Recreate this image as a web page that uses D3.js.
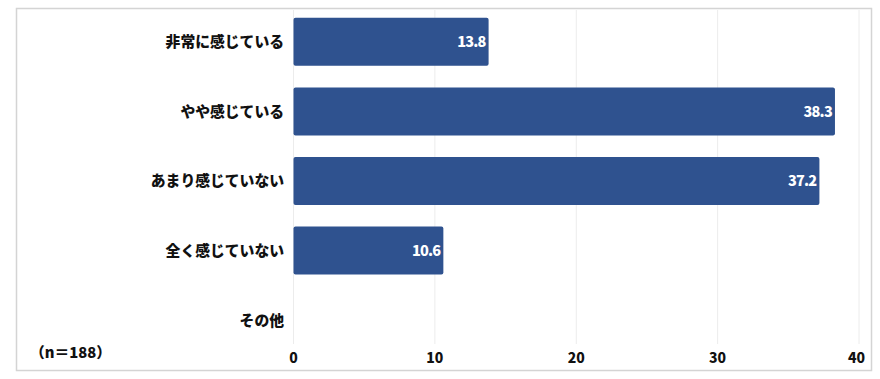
<!DOCTYPE html>
<html lang="ja">
<head>
<meta charset="UTF-8">
<title>感じている程度</title>
<script src="https://d3js.org/d3.v7.min.js"></script>
<style>
    body { margin: 0; background: white; font-family: "Noto Sans CJK JP", "Noto Sans", sans-serif; }
    .frame { fill: white; stroke: #d4d4d4; stroke-width: 1.5; }
    .grid line { stroke: #ececec; stroke-width: 1; }
    .cat { font-size: 14.8px; font-weight: 900; fill: #111; }
    .tick-label { font-size: 14px; font-weight: 900; fill: #111; }
    .val { font-size: 14.5px; font-weight: 900; fill: white; letter-spacing: -0.8px; }
</style>
</head>
<body>
<svg width="880" height="379"></svg>
<script>
    // Data
    const categories = ["非常に感じている", "やや感じている", "あまり感じていない", "全く感じていない", "その他"];
    const values = [13.8, 38.3, 37.2, 10.6, null];
    const xTicks = [0, 10, 20, 30, 40];
    const note = "（n＝188）";

    const svg = d3.select("svg");

    // outer frame
    svg.append("rect")
        .attr("class", "frame")
        .attr("x", 16.5).attr("y", 8.5)
        .attr("width", 855).attr("height", 362);

    const x = d3.scaleLinear().domain([0, 40]).range([293.5, 859]);
    const y = d3.scaleBand()
        .domain(categories)
        .range([7, 355])
        .paddingInner(0.31)
        .paddingOuter(0.155);

    // gridlines
    svg.append("g").attr("class", "grid")
        .selectAll("line")
        .data(xTicks)
        .enter().append("line")
        .attr("x1", d => x(d)).attr("x2", d => x(d))
        .attr("y1", 10).attr("y2", 344);

    // bars
    const rows = categories.map((c, i) => ({ cat: c, value: values[i] }));
    const barRows = rows.filter(d => d.value != null);

    svg.append("g")
        .selectAll("rect")
        .data(barRows)
        .enter().append("rect")
        .attr("x", x(0))
        .attr("y", d => y(d.cat))
        .attr("width", d => x(d.value) - x(0))
        .attr("height", y.bandwidth())
        .attr("rx", 2)
        .attr("fill", "#2f528f");

    // value labels
    svg.append("g")
        .selectAll("text")
        .data(barRows)
        .enter().append("text")
        .attr("class", "val")
        .attr("x", d => x(d.value) - 3)
        .attr("y", d => y(d.cat) + y.bandwidth() / 2)
        .attr("dy", "0.36em")
        .attr("text-anchor", "end")
        .text(d => d.value.toFixed(1));

    // category labels
    svg.append("g")
        .selectAll("text")
        .data(categories)
        .enter().append("text")
        .attr("class", "cat")
        .attr("x", 284)
        .attr("y", d => y(d) + y.bandwidth() / 2)
        .attr("dy", "0.36em")
        .attr("text-anchor", "end")
        .text(d => d);

    // x tick labels
    svg.append("g")
        .selectAll("text")
        .data(xTicks)
        .enter().append("text")
        .attr("class", "tick-label")
        .attr("x", d => x(d))
        .attr("y", 358)
        .attr("dy", "0.36em")
        .attr("text-anchor", (d, i) => i === xTicks.length - 1 ? "end" : "middle")
        .attr("dx", (d, i) => i === xTicks.length - 1 ? 6 : 0)
        .text(d => d);

    // sample size note
    svg.append("text")
        .attr("class", "cat")
        .attr("x", 30)
        .attr("y", 353)
        .attr("dy", "0.36em")
        .text(note);
</script>
</body>
</html>
